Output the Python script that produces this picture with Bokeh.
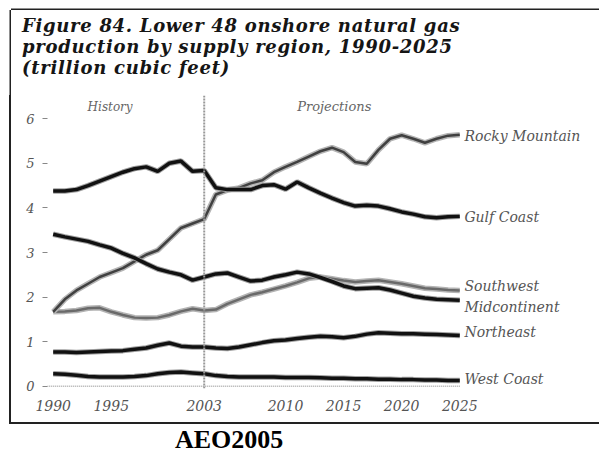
from bokeh.plotting import figure
from bokeh.models import Range1d, Span, Label, FixedTicker, Div
from bokeh.layouts import column, row
from bokeh.embed import file_html
from bokeh.resources import INLINE

years = list(range(1990, 2026))

rocky_mountain = [1.67, 1.95, 2.15, 2.30, 2.45, 2.55, 2.65, 2.80, 2.95, 3.05,
                  3.30, 3.55, 3.65, 3.75, 4.30, 4.40, 4.45, 4.55, 4.62, 4.80,
                  4.92, 5.03, 5.15, 5.27, 5.35, 5.25, 5.03, 4.99, 5.30, 5.55,
                  5.63, 5.55, 5.46, 5.55, 5.62, 5.64]
gulf_coast = [4.38, 4.38, 4.41, 4.50, 4.60, 4.70, 4.80, 4.88, 4.92, 4.82,
              5.00, 5.05, 4.82, 4.84, 4.45, 4.41, 4.41, 4.41, 4.50, 4.52,
              4.42, 4.58, 4.45, 4.33, 4.22, 4.12, 4.04, 4.06, 4.04, 3.98,
              3.91, 3.86, 3.80, 3.78, 3.80, 3.81]
southwest = [1.67, 1.68, 1.70, 1.75, 1.76, 1.67, 1.60, 1.54, 1.53, 1.54,
             1.60, 1.68, 1.74, 1.70, 1.72, 1.85, 1.95, 2.05, 2.11, 2.18,
             2.25, 2.33, 2.42, 2.45, 2.41, 2.37, 2.34, 2.36, 2.38, 2.34,
             2.30, 2.25, 2.20, 2.18, 2.16, 2.15]
midcontinent = [3.41, 3.35, 3.30, 3.25, 3.17, 3.10, 2.98, 2.88, 2.75, 2.63,
                2.56, 2.50, 2.38, 2.45, 2.52, 2.54, 2.45, 2.36, 2.38, 2.45,
                2.50, 2.56, 2.52, 2.44, 2.35, 2.25, 2.19, 2.20, 2.21, 2.16,
                2.09, 2.02, 1.98, 1.95, 1.94, 1.93]
northeast = [0.77, 0.77, 0.76, 0.77, 0.78, 0.79, 0.80, 0.83, 0.86, 0.92,
             0.97, 0.90, 0.88, 0.88, 0.86, 0.85, 0.88, 0.93, 0.98, 1.02,
             1.04, 1.07, 1.10, 1.12, 1.11, 1.09, 1.12, 1.17, 1.20, 1.19,
             1.18, 1.18, 1.17, 1.16, 1.15, 1.14]
west_coast = [0.28, 0.27, 0.25, 0.22, 0.21, 0.21, 0.21, 0.22, 0.24, 0.28,
              0.31, 0.32, 0.30, 0.28, 0.24, 0.22, 0.21, 0.21, 0.21, 0.21,
              0.20, 0.20, 0.20, 0.19, 0.18, 0.18, 0.17, 0.17, 0.16, 0.16,
              0.15, 0.15, 0.14, 0.14, 0.13, 0.13]

x_ticks = [1990, 1995, 2003, 2010, 2015, 2020, 2025]
y_ticks = [0, 1, 2, 3, 4, 5, 6]
history_end = 2003

title_lines = ["Figure 84. Lower 48 onshore natural gas",
               "production by supply region, 1990-2025",
               "(trillion cubic feet)"]
series_labels = ["Rocky Mountain", "Gulf Coast", "Southwest",
                 "Midcontinent", "Northeast", "West Coast"]
label_y = [5.62, 3.79, 2.26, 1.77, 1.21, 0.17]
footer_text = "AEO2005"

SERIF = "DejaVu Serif"
BORDER = "#222222"

# title block (inside the boxed area)
title_div = Div(
    text=('<div style="padding:5px 0 0 11px; font-family:\'DejaVu Serif\'; '
          'font-weight:bold; font-style:italic; font-size:18px; line-height:21px; '
          'letter-spacing:0.7px; color:#151515; white-space:nowrap;">'
          + "<br>".join(title_lines) + "</div>"),
    width=588, height=85, margin=(10, 0, 0, 11),
    styles={"box-shadow": f"-1.5px 0 0 0 {BORDER}, 0 -1.5px 0 0 {BORDER}"})

p = figure(width=588, height=327, output_backend="svg", toolbar_location=None,
           x_range=Range1d(1989.509, 2037.03), y_range=Range1d(-0.049, 6.52),
           min_border_left=36, min_border_right=0, min_border_top=0,
           min_border_bottom=34)
p.outline_line_color = None
p.grid.visible = False
p.background_fill_color = "white"
p.border_fill_color = "white"

# axes
p.xaxis.ticker = FixedTicker(ticks=x_ticks)
p.xaxis.axis_line_color = None
p.xaxis.major_tick_line_color = None
p.xaxis.minor_tick_line_color = None
p.xaxis.major_label_standoff = 5
p.xaxis.major_label_text_font = SERIF
p.xaxis.major_label_text_font_style = "italic"
p.xaxis.major_label_text_font_size = "14px"
p.xaxis.major_label_text_color = "#555555"

p.yaxis.ticker = FixedTicker(ticks=y_ticks)
p.yaxis.axis_line_color = None
p.yaxis.minor_tick_line_color = None
p.yaxis.major_tick_out = 5
p.yaxis.major_tick_in = 0
p.yaxis.major_tick_line_color = "#888888"
p.yaxis.major_label_standoff = 8
p.yaxis.major_label_text_font = SERIF
p.yaxis.major_label_text_font_style = "italic"
p.yaxis.major_label_text_font_size = "13px"
p.yaxis.major_label_text_color = "#555555"

# history / projections divider
p.add_layout(Span(location=history_end, dimension="height", line_color="#999999",
                  line_width=2, line_dash="2 1"))

# zero baseline
p.segment(x0=years[0] - 0.9, x1=years[-1], y0=0, y1=0, line_color="#aaaaaa",
          line_width=1.5, line_dash="1 1")

# gray series
for vals, core in [(southwest, "#6a6a6a"), (rocky_mountain, "#404040")]:
    p.line(years, vals, line_color="#b4b4b4", line_width=5.5)
    p.line(years, vals, line_color=core, line_width=2.5)

# black series
for vals in [west_coast, northeast, midcontinent, gulf_coast]:
    p.line(years, vals, line_color="#a0a0a0", line_width=5.5)
    p.line(years, vals, line_color="#111111", line_width=3.5)

# series labels
for name, yv in zip(series_labels, label_y):
    p.add_layout(Label(x=2025.4, y=yv, text=name, text_font=SERIF,
                       text_font_style="italic", text_font_size="14px",
                       text_color="#555555", text_baseline="middle"))

p.add_layout(Label(x=1994.9, y=6.27, text="History", text_font=SERIF,
                   text_font_style="italic", text_font_size="12px",
                   text_color="#666666", text_baseline="middle", text_align="center"))
p.add_layout(Label(x=2014.2, y=6.27, text="Projections", text_font=SERIF,
                   text_font_style="italic", text_font_size="13px",
                   text_color="#666666", text_baseline="middle", text_align="center"))

# box edges (left side next to the chart, bottom under the axis)
left_bar = Div(text="", width=2, height=327, margin=(0, 0, 0, 9),
               styles={"background-color": BORDER})
bottom_bar = Div(text="", width=590, height=2, margin=(0, 0, 0, 9),
                 styles={"background-color": BORDER})

footer = Div(text=footer_text, width=300, height=26, margin=(3, 0, 0, 175),
             styles={"font-family": "'Liberation Serif'", "font-weight": "bold",
                     "font-size": "26px", "line-height": "26px", "color": "#000"})

layout = column(title_div, row(left_bar, p, spacing=0), bottom_bar, footer, spacing=0)
open("out.html", "w").write(file_html(layout, INLINE))
